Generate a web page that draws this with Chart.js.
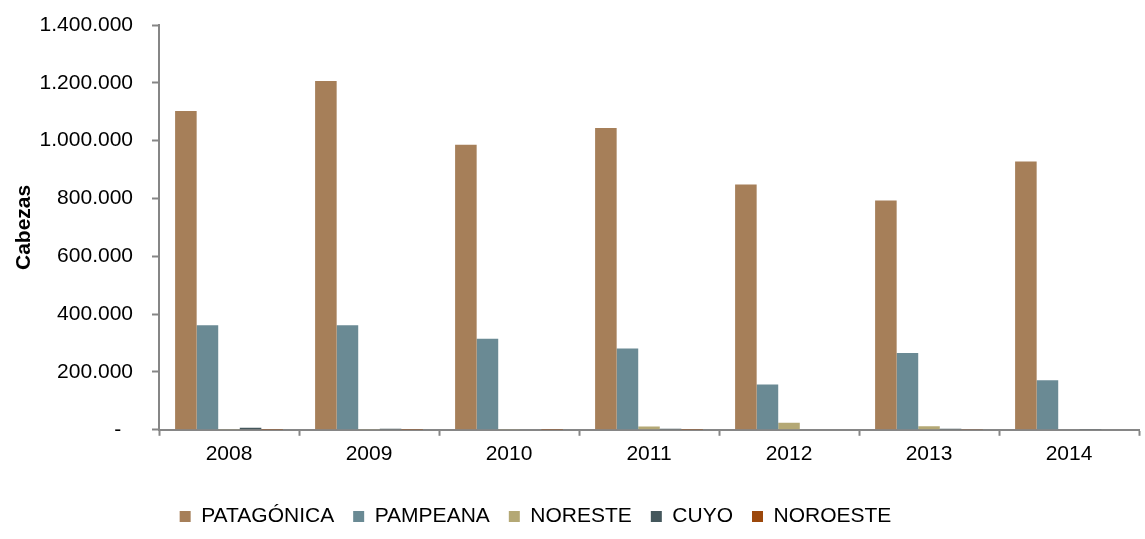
<!DOCTYPE html>
<html>
<head>
<meta charset="utf-8">
<script src="https://cdn.jsdelivr.net/npm/chart.js@4.4.1/dist/chart.umd.min.js"></script>
<style>
  html, body { margin: 0; padding: 0; background: #fff; }
  #wrap { width: 1145px; height: 539px; }
</style>
</head>
<body>
<div id="wrap"><canvas id="barChart" width="1145" height="539"></canvas></div>
<script>
// Years on the x axis
const years = ['2008', '2009', '2010', '2011', '2012', '2013', '2014'];

// Head counts per region
const patagonica = [1103000, 1206000, 986000, 1044000, 848000, 793000, 928000];
const pampeana = [362000, 362000, 315000, 281000, 157000, 266000, 171000];
const noreste = [2500, 2500, 3000, 11500, 24000, 12000, 0];
const cuyo = [7000, 3500, 2000, 3500, 1500, 3500, 2500];
const noroeste = [500, 500, 500, 500, 1500, 3000, 1500];

// Y axis tick values
const yTicks = [0, 200000, 400000, 600000, 800000, 1000000, 1200000, 1400000];

const seriesNames = ['PATAGÓNICA', 'PAMPEANA', 'NORESTE', 'CUYO', 'NOROESTE'];
const seriesData = [patagonica, pampeana, noreste, cuyo, noroeste];
const seriesColors = ['#A67F59', '#6A8A94', '#B4A875', '#44575C', '#9C480C'];

const axisGrey = '#868686';
const fontFamily = '"Liberation Sans", Arial, sans-serif';

// dotted thousands separator, zero shown as a dash
function formatTick(value) {
    if (value === 0) return '-  ';
    return String(value).replace(/\B(?=(\d{3})+(?!\d))/g, '.');
}

const datasets = seriesNames.map((name, i) => ({
    label: name,
    data: seriesData[i],
    backgroundColor: seriesColors[i],
    borderWidth: 0,
    categoryPercentage: 0.77,
    barPercentage: 1.0
}));

// nudge the legend a bit left, like the original
const legendShift = {
    id: 'legendShift',
    afterLayout(chart) {
        if (chart.legend) {
            chart.legend.left -= 34;
            chart.legend.right -= 34;
        }
    }
};

const ctx = document.getElementById('barChart').getContext('2d');
new Chart(ctx, {
    type: 'bar',
    data: { labels: years, datasets: datasets },
    options: {
        responsive: false,
        animation: false,
        layout: { padding: { top: 25, right: 6, bottom: 2, left: 0 } },
        plugins: {
            legend: {
                position: 'bottom',
                labels: {
                    boxWidth: 11,
                    boxHeight: 11,
                    padding: 19,
                    color: '#000',
                    font: { family: fontFamily, size: 21 }
                }
            },
            tooltip: { enabled: false }
        },
        scales: {
            x: {
                afterFit(scale) {
                    scale.height += 14;
                },
                grid: {
                    display: true,
                    drawOnChartArea: false,
                    drawTicks: true,
                    tickLength: 6,
                    tickWidth: 2,
                    color: axisGrey,
                    offset: true
                },
                border: { display: true, color: axisGrey, width: 2 },
                ticks: {
                    color: '#000',
                    padding: 6,
                    font: { family: fontFamily, size: 21 }
                }
            },
            y: {
                min: 0,
                max: 1400000,
                afterBuildTicks(scale) {
                    scale.ticks = yTicks.map(v => ({ value: v }));
                },
                afterFit(scale) {
                    scale.width = 159;
                    scale.paddingTop = 0;
                    scale.paddingBottom = 0;
                },
                grid: {
                    display: true,
                    drawOnChartArea: false,
                    drawTicks: true,
                    tickLength: 7,
                    tickWidth: 2,
                    color: axisGrey
                },
                border: { display: true, color: axisGrey, width: 2 },
                ticks: {
                    color: '#000',
                    padding: 19,
                    font: { family: fontFamily, size: 21 },
                    callback: (value) => formatTick(value)
                },
                title: {
                    display: true,
                    text: 'Cabezas',
                    color: '#000',
                    padding: { top: 12, bottom: 0 },
                    font: { family: fontFamily, size: 21, weight: 'bold' }
                }
            }
        }
    },
    plugins: [legendShift]
});
</script>
</body>
</html>
